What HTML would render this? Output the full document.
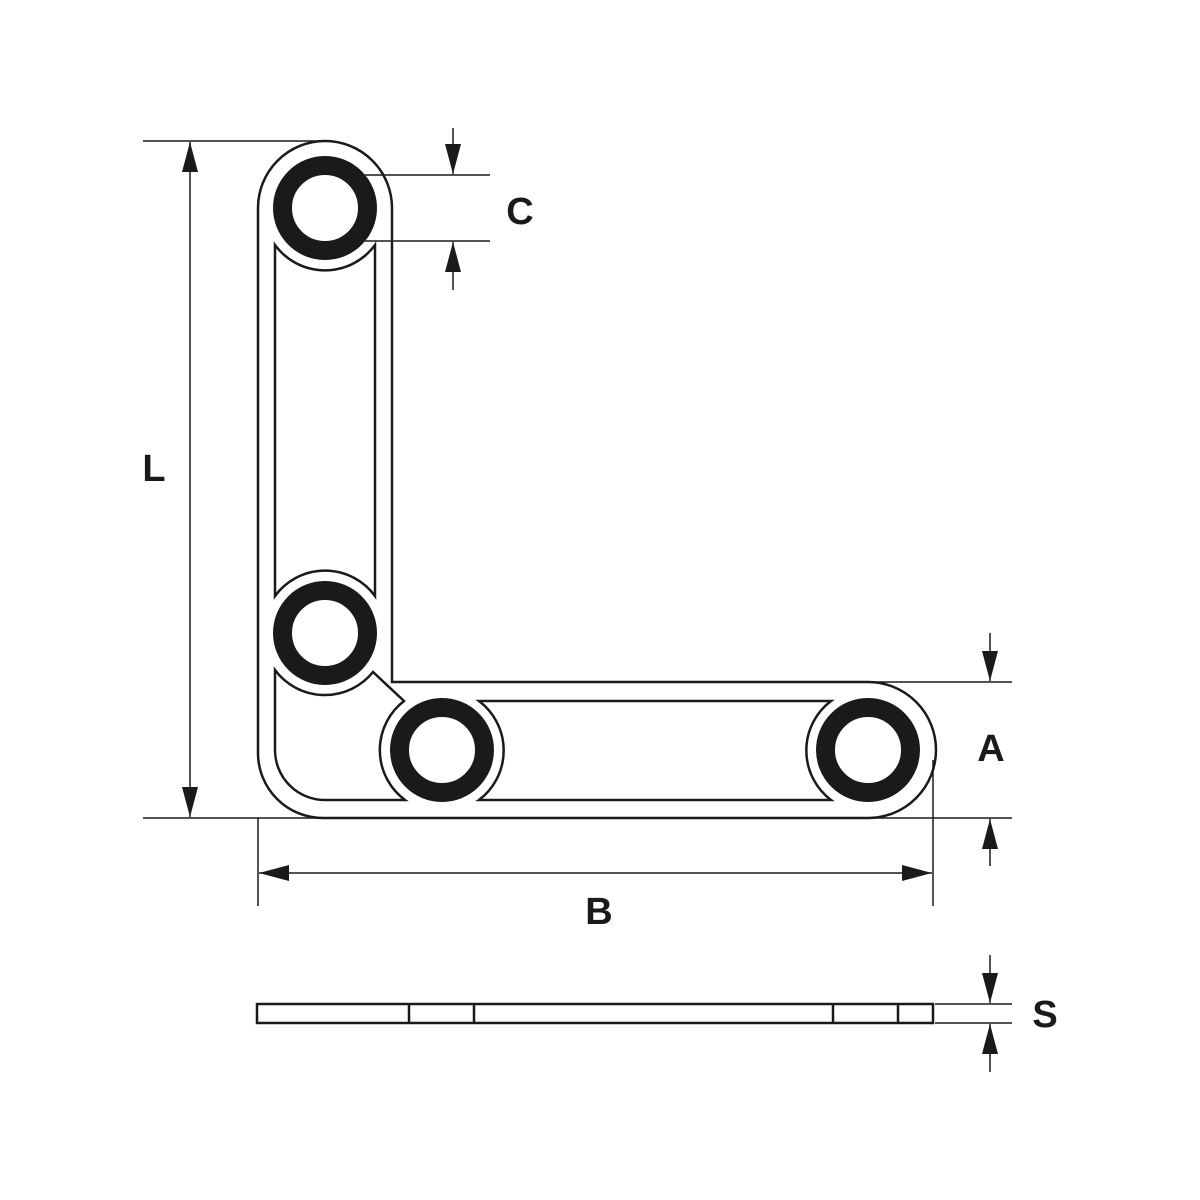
<!DOCTYPE html>
<html><head><style>html,body{margin:0;padding:0;background:#fff}svg{display:block}</style></head>
<body>
<svg width="1200" height="1200" viewBox="0 0 1200 1200" xmlns="http://www.w3.org/2000/svg">
<defs>
<marker id="ah" viewBox="0 0 30 16" refX="30" refY="8" markerWidth="30" markerHeight="16" markerUnits="userSpaceOnUse" orient="auto">
<path d="M0,0 L30,8 L0,16 Z" fill="#1a1a1a"/>
</marker>
</defs>
<g fill="none" stroke="#1a1a1a" stroke-width="2.5">
<path d="M258,208 A67,67 0 0 1 392,208 L392,682 L868,682 A68,68 0 0 1 868,818 L323,818 A65,65 0 0 1 258,753 Z"/>
<path d="M275,245 A62 62 0 0 0 375,245 L375,596 A62 62 0 0 0 275,596 Z"/>
<path d="M275,670 L275,750 A50 50 0 0 0 325,800 L405,800 A62 62 0 0 1 404,701 L373,672 A62 62 0 0 1 275,670 Z"/>
<path d="M479,701 L831,701 A62 62 0 0 0 831,800 L479,800 A62 62 0 0 0 479,701 Z"/>
</g>
<g fill="none" stroke="#1a1a1a" stroke-width="19">
<circle cx="325" cy="208" r="42.5"/>
<circle cx="325" cy="633" r="42.5"/>
<circle cx="442" cy="750" r="42.5"/>
<circle cx="868" cy="750" r="42.5"/>
</g>
<g fill="none" stroke="#1a1a1a" stroke-width="2.5">
<rect x="257" y="1004" width="676" height="19"/>
<line x1="409" y1="1004" x2="409" y2="1023"/>
<line x1="474" y1="1004" x2="474" y2="1023"/>
<line x1="833" y1="1004" x2="833" y2="1023"/>
<line x1="898" y1="1004" x2="898" y2="1023"/>
</g>
<g stroke="#1a1a1a" stroke-width="1.5" fill="none">
<line x1="143" y1="141" x2="325" y2="141"/>
<line x1="143" y1="818" x2="1012" y2="818"/>
<line x1="190" y1="479" x2="190" y2="142" marker-end="url(#ah)"/>
<line x1="190" y1="479" x2="190" y2="817" marker-end="url(#ah)"/>
<line x1="365" y1="175" x2="490" y2="175"/>
<line x1="365" y1="241" x2="490" y2="241"/>
<line x1="453" y1="128" x2="453" y2="174" marker-end="url(#ah)"/>
<line x1="453" y1="290" x2="453" y2="242" marker-end="url(#ah)"/>
<line x1="868" y1="682" x2="1012" y2="682"/>
<line x1="990" y1="633" x2="990" y2="681" marker-end="url(#ah)"/>
<line x1="990" y1="866" x2="990" y2="819" marker-end="url(#ah)"/>
<line x1="258" y1="818" x2="258" y2="906"/>
<line x1="933" y1="760" x2="933" y2="906"/>
<line x1="596" y1="873" x2="259" y2="873" marker-end="url(#ah)"/>
<line x1="596" y1="873" x2="932" y2="873" marker-end="url(#ah)"/>
<line x1="935" y1="1004" x2="1012" y2="1004"/>
<line x1="935" y1="1023" x2="1012" y2="1023"/>
<line x1="990" y1="955" x2="990" y2="1003" marker-end="url(#ah)"/>
<line x1="990" y1="1072" x2="990" y2="1024" marker-end="url(#ah)"/>
</g>
<g font-family="Liberation Sans, sans-serif" font-weight="bold" font-size="38" fill="#1a1a1a" text-anchor="middle">
<text x="154" y="481">L</text>
<text x="520" y="224">C</text>
<text x="991" y="761">A</text>
<text x="599" y="924">B</text>
<text x="1045" y="1027">S</text>
</g>
</svg>
</body></html>
